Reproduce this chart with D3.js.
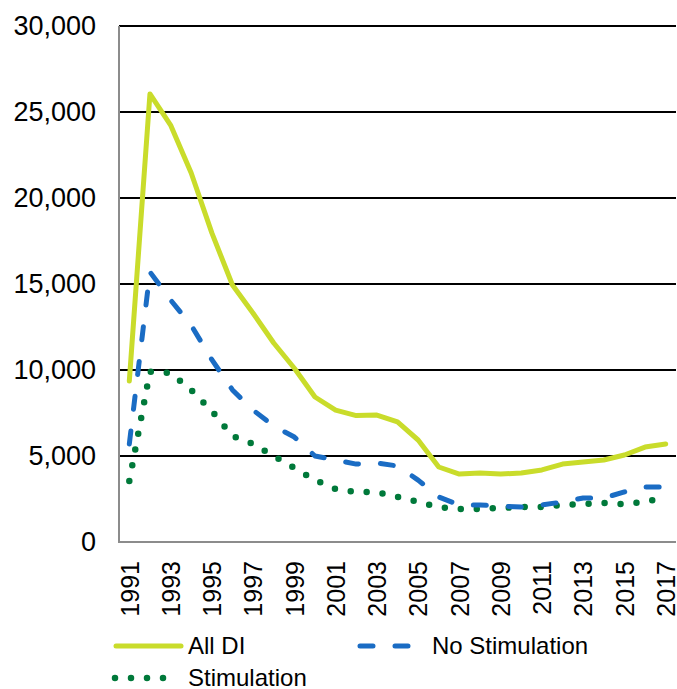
<!DOCTYPE html>
<html>
<head>
<meta charset="utf-8">
<script src="https://cdn.jsdelivr.net/npm/d3@7"></script>
<style>
  html, body { margin: 0; padding: 0; background: #fff; }
  svg { display: block; font-family: "Liberation Sans", Arial, Helvetica, sans-serif; }
</style>
</head>
<body>
<div id="chart"></div>
<script>
// data
const years = [1991, 1992, 1993, 1994, 1995, 1996, 1997, 1998, 1999, 2000, 2001, 2002, 2003, 2004,
  2005, 2006, 2007, 2008, 2009, 2010, 2011, 2012, 2013, 2014, 2015, 2016, 2017];
const allDI = [9360, 26050, 24240, 21450, 17970, 14940, 13300, 11570, 10100, 8430, 7670, 7350, 7380, 6980,
  5930, 4360, 3950, 4010, 3950, 4010, 4190, 4530, 4650, 4770, 5060, 5520, 5700];
const noStim = [5700, 15700, 14070, 12600, 10600, 8840, 7670, 6740, 6100, 5000, 4770, 4530, 4590, 4420,
  3600, 2620, 2150, 2150, 2090, 2030, 2150, 2330, 2560, 2560, 2910, 3200, 3200];
const stim = [3550, 9900, 9830, 8840, 7620, 6160, 5700, 5000, 4300, 3600, 3080, 2900, 2900, 2620,
  2330, 2030, 1920, 1920, 1980, 2030, 2030, 2150, 2200, 2270, 2200, 2330, 2600];
const yTicks = [0, 5000, 10000, 15000, 20000, 25000, 30000];
const seriesNames = ['All DI', 'No Stimulation', 'Stimulation'];

const width = 677, height = 689;
const plotLeft = 119, plotRight = 676, plotTop = 26, plotBottom = 542;

const svg = d3.select('#chart').append('svg')
  .attr('width', width)
  .attr('height', height);

const x = d3.scalePoint().domain(years).range([plotLeft, plotRight]).padding(0.5);
const y = d3.scaleLinear().domain([0, 30000]).range([plotBottom, plotTop]);

// gridlines
svg.append('g')
  .selectAll('line')
  .data(yTicks.filter(d => d > 0))
  .enter().append('line')
  .attr('x1', plotLeft).attr('x2', plotRight)
  .attr('y1', d => y(d)).attr('y2', d => y(d))
  .attr('stroke', '#000')
  .attr('stroke-width', 2);

// y axis
const yAxis = svg.append('g')
  .attr('transform', `translate(${plotLeft},0)`)
  .call(d3.axisLeft(y).tickValues(yTicks).tickFormat(d3.format(',')).tickSize(0).tickPadding(23));
yAxis.select('.domain').remove();
yAxis.selectAll('text')
  .attr('font-size', 27)
  .attr('font-family', '"Liberation Sans", Arial, sans-serif')
  .attr('fill', '#000');

// x axis labels (every other year)
const xAxis = svg.append('g')
  .attr('transform', `translate(0,${plotBottom})`)
  .call(d3.axisBottom(x).tickValues(years.filter((d, i) => i % 2 === 0)).tickSize(0));
xAxis.select('.domain').remove();
xAxis.selectAll('text')
  .attr('font-size', 25)
  .attr('font-family', '"Liberation Sans", Arial, sans-serif')
  .attr('fill', '#000')
  .attr('text-anchor', 'end')
  .attr('dy', '0.35em')
  .attr('transform', 'translate(0,19) rotate(-90)')
  .attr('y', 0)
  .attr('x', 0);

// axis lines
svg.append('line')
  .attr('x1', plotLeft).attr('x2', plotLeft)
  .attr('y1', plotTop).attr('y2', plotBottom + 1)
  .attr('stroke', '#8c8c8c').attr('stroke-width', 2);
svg.append('line')
  .attr('x1', plotLeft - 1).attr('x2', plotRight)
  .attr('y1', plotBottom).attr('y2', plotBottom)
  .attr('stroke', '#8c8c8c').attr('stroke-width', 2);

const styles = [
  { color: '#c9dc2b', width: 5, dash: null, cap: 'round' },
  { color: '#1a6cc4', width: 5, dash: '13,22', cap: 'round' },
  { color: '#00793a', width: 6.5, dash: '0,16', cap: 'round' }
];
const series = [allDI, noStim, stim];

const line = d3.line()
  .x((d, i) => x(years[i]))
  .y(d => y(d));

// draw in order: stimulation at bottom, then no stim, then all DI on top
[2, 1, 0].forEach(k => {
  svg.append('path')
    .datum(series[k])
    .attr('d', line)
    .attr('fill', 'none')
    .attr('stroke', styles[k].color)
    .attr('stroke-width', styles[k].width)
    .attr('stroke-linecap', styles[k].cap)
    .attr('stroke-linejoin', 'round')
    .attr('stroke-dasharray', styles[k].dash);
});

// legend
const legendItems = [
  { lx: 116, ly: 646, len: 65 },
  { lx: 360, ly: 646, len: 53 },
  { lx: 115, ly: 678, len: 64 }
];
legendItems.forEach((p, k) => {
  const s = styles[k];
  svg.append('line')
    .attr('x1', p.lx).attr('x2', p.lx + p.len)
    .attr('y1', p.ly).attr('y2', p.ly)
    .attr('stroke', s.color)
    .attr('stroke-width', s.width)
    .attr('stroke-linecap', s.cap)
    .attr('stroke-dasharray', s.dash);
  svg.append('text')
    .attr('x', k === 1 ? 432 : 188)
    .attr('y', p.ly)
    .attr('dy', '0.35em')
    .attr('font-size', 24)
    .attr('fill', '#000')
    .text(seriesNames[k]);
});
</script>
</body>
</html>
